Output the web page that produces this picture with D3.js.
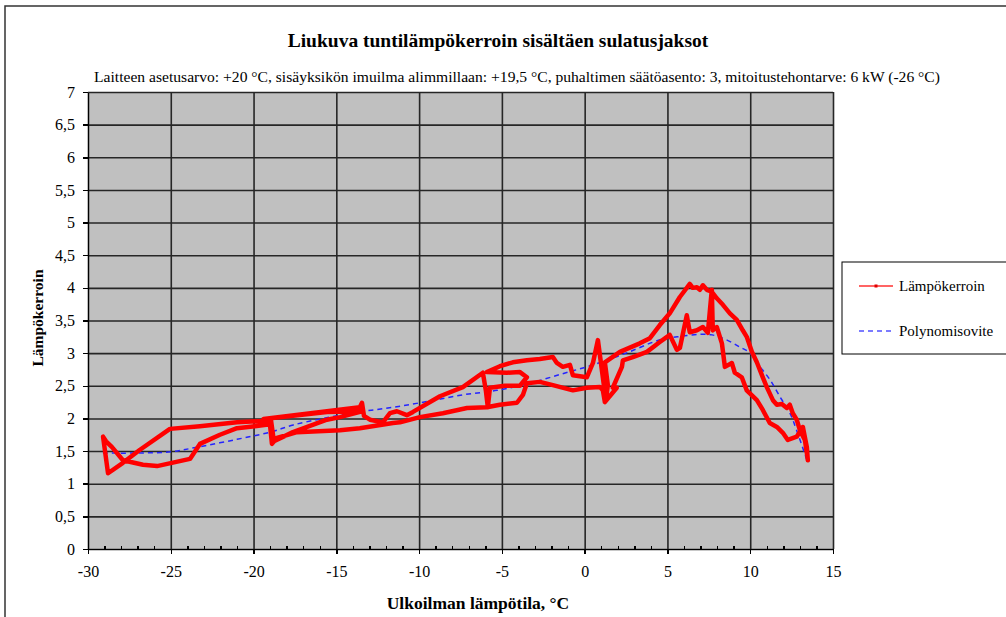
<!DOCTYPE html>
<html lang="fi">

<head>
    <meta charset="UTF-8">
    <title>Liukuva tuntilämpökerroin sisältäen sulatusjaksot</title>

    <!-- Importing the D3.js library -->
    <script src="https://d3js.org/d3.v7.min.js"></script>

    <style>
        body {
            margin: 0;
            background: #ffffff;
        }

        svg text {
            font-family: "Liberation Serif", "Times New Roman", Times, "DejaVu Serif", serif !important;
            fill: #000;
        }

        .grid line {
            stroke: #262626;
            stroke-width: 1.6;
        }

        .grid path {
            display: none;
        }

        .axis path,
        .axis line {
            fill: none;
            stroke: #000;
            stroke-width: 1.5;
            shape-rendering: crispEdges;
        }

        .axis text {
            font-size: 16px;
        }
    </style>
</head>

<body>
    <script>
        // Tick labels of both axes
        const xTicks = [-30, -25, -20, -15, -10, -5, 0, 5, 10, 15];
        const xMinorTicks = [-29, -28, -27, -26, -24, -23, -22, -21, -19, -18, -17, -16, -14, -13, -12, -11,
            -9, -8, -7, -6, -4, -3, -2, -1, 1, 2, 3, 4, 6, 7, 8, 9, 11, 12, 13, 14];
        const yTicks = [0, 0.5, 1, 1.5, 2, 2.5, 3, 3.5, 4, 4.5, 5, 5.5, 6, 6.5, 7];

        // Lämpökerroin: outdoor temperature (°C) and heat factor
        const ulkoLampo = [
            13.48, 13.42, 13.18, 12.81, 12.27, 11.97, 11.61, 11.18, 10.76, 10.40, 9.79, 9.49, 9.07, 8.89, 8.47,
            8.29, 7.98, 7.74, 7.68, 7.44, 7.14, 6.78, 6.35, 6.17, 5.75, 5.57, 5.14, 4.54, 3.76, 2.91, 2.31, 2.25, 1.70,
            1.94, 1.22, 1.10, 0.92, 0.13, -0.71, -1.92, -2.71, -3.49, -3.73, -4.09, -5.12, -5.91, -7.11, -8.56,
            -9.95, -11.16, -11.58, -13.58, -14.78, -17.38, -18.59, -18.89, -19.01, -19.92, -21.00, -22.03, -23.24,
            -23.84, -25.83, -26.68, -27.89, -28.55, -28.91, -29.09, -28.79, -27.89, -26.86, -25.05, -23.24, -21.00,
            -19.49, -18.95, -18.77, -17.62, -15.57, -14.78, -13.45, -15.57, -19.40, -15.57, -13.58, -13.45, -13.33,
            -12.97, -12.19, -11.76, -11.34, -10.74, -10.37, -8.74, -7.36, -6.15, -5.97, -5.85, -5.72, -4.82, -3.91,
            -3.49, -3.91, -4.70, -5.91, -5.12, -4.34, -3.49, -2.71, -1.92, -1.68, -1.32, -0.89, -0.71, 0.13, 0.50,
            0.80, 1.04, 1.28, 1.40, 1.22, 2.13, 3.33, 3.94, 4.54, 5.14, 5.75, 6.35,
            6.53, 6.78, 6.96, 7.14, 7.38, 7.68, 7.98, 8.35, 8.77, 9.19, 9.55, 9.79, 10.10, 10.40, 10.76, 11.00,
            11.37, 11.61, 11.91, 12.21, 12.39, 12.57, 12.81, 13.00, 13.30, 13.42, 13.48
        ];
        const lampokerroin = [
            1.36, 1.56, 1.87, 1.72, 1.67, 1.78, 1.87, 1.93, 2.13, 2.28, 2.43, 2.63, 2.70, 2.85, 2.79,
            3.15, 3.40, 3.35, 3.97, 3.31, 3.40, 3.35, 3.32, 3.58, 3.08, 3.05, 3.28, 3.17, 3.02, 2.94, 2.89, 2.79, 2.47,
            2.47, 2.25, 2.43, 2.48, 2.47, 2.43, 2.51, 2.56, 2.54, 2.36, 2.24, 2.21, 2.17, 2.16, 2.08,
            2.02, 1.94, 1.93, 1.85, 1.82, 1.79, 1.70, 1.61, 1.91, 1.88, 1.85, 1.75, 1.61,
            1.38, 1.27, 1.29, 1.36, 1.56, 1.65, 1.72, 1.16, 1.32, 1.52, 1.84, 1.88, 1.94,
            1.96, 1.98, 1.65, 1.79, 1.98, 2.02, 2.11, 2.10, 1.99, 2.11, 2.17, 2.24, 2.04,
            1.98, 1.94, 2.08, 2.11, 2.05, 2.10, 2.34, 2.48, 2.70, 2.43, 2.17, 2.47, 2.50, 2.50,
            2.63, 2.71, 2.70, 2.71, 2.80, 2.86, 2.89, 2.91, 2.94, 2.85, 2.79, 2.82, 2.66, 2.63, 2.85,
            3.20, 2.74, 2.28, 2.51, 2.86, 3.02, 3.15, 3.23, 3.43, 3.61, 3.86, 4.06,
            4.00, 4.01, 3.97, 4.04, 3.97, 3.94, 3.84, 3.74, 3.61, 3.51, 3.35, 3.25, 3.02, 2.86, 2.63, 2.48,
            2.28, 2.21, 2.22, 2.16, 2.21, 2.08, 1.98, 1.82, 1.67, 1.47, 1.36
        ];

        // Polynomisovite (fitted trend)
        const sovX = [-29.1, -27, -25, -23.4, -21, -19, -17.6, -15.6, -13.6, -11.6, -9.5, -7.4, -5.3, -3.3, -1.4,
            0.5, 2.5, 4.5, 5.6, 7.0, 7.7, 8.6, 9.4, 10.0, 10.6, 11.2, 11.8, 12.4, 12.8, 13.4];
        const sovY = [1.47, 1.47, 1.49, 1.56, 1.68, 1.79, 1.90, 2.01, 2.10, 2.17, 2.26, 2.36, 2.43, 2.54, 2.68,
            2.82, 3.00, 3.20, 3.25, 3.29, 3.28, 3.20, 3.09, 3.00, 2.79, 2.59, 2.33, 2.08, 1.82, 1.38];

        const seriesNames = ["Lämpökerroin", "Polynomisovite"];

        // Setting dimensions and margins for the chart
        const width = 1006;
        const height = 617;
        const margin = { top: 92, right: 173, bottom: 68, left: 88 };
        const serif = '"Liberation Serif", "Times New Roman", Times, serif';

        const x = d3.scaleLinear()
            .domain([-30, 15])
            .range([margin.left, width - margin.right]);

        const y = d3.scaleLinear()
            .domain([0, 7])
            .range([height - margin.bottom, margin.top]);

        const fmt = d => String(d).replace(".", ",");

        const svg = d3.select("body").append("svg")
            .attr("width", width)
            .attr("height", height)
            .attr("font-family", serif);

        // Outer chart frame (only top and left edge are visible)
        svg.append("path")
            .attr("d", `M5,${height} V6 H${width}`)
            .attr("fill", "none")
            .attr("stroke", "#333")
            .attr("stroke-width", 1.5);

        // Grey plot area
        svg.append("rect")
            .attr("x", x(-30))
            .attr("y", y(7))
            .attr("width", x(15) - x(-30))
            .attr("height", y(0) - y(7))
            .attr("fill", "#c0c0c0");

        // Gridlines
        svg.append("g")
            .attr("class", "grid")
            .attr("transform", `translate(${margin.left},0)`)
            .call(d3.axisLeft(y).tickValues(yTicks).tickSize(-(x(15) - x(-30))).tickFormat(""));

        svg.append("g")
            .attr("class", "grid")
            .attr("transform", `translate(0,${y(0)})`)
            .call(d3.axisBottom(x).tickValues(xTicks).tickSize(-(y(0) - y(7))).tickFormat(""));

        // Axes
        svg.append("g")
            .attr("class", "axis")
            .attr("transform", `translate(${margin.left},0)`)
            .call(d3.axisLeft(y).tickValues(yTicks).tickSize(5).tickSizeOuter(0).tickPadding(8).tickFormat(fmt))
            .attr("font-family", serif);

        svg.append("g")
            .attr("class", "axis")
            .attr("transform", `translate(0,${y(0)})`)
            .call(d3.axisBottom(x).tickValues(xTicks).tickSize(5).tickSizeOuter(0).tickPadding(12).tickFormat(fmt))
            .attr("font-family", serif);

        // Minor ticks on the x axis, pointing into the plot
        svg.append("g")
            .attr("class", "axis")
            .attr("transform", `translate(0,${y(0)})`)
            .call(d3.axisBottom(x).tickValues(xMinorTicks).tickSize(-3).tickSizeOuter(0).tickFormat(""))
            .call(g => g.select(".domain").remove());

        // Lines
        const redData = d3.zip(ulkoLampo, lampokerroin);
        const fitData = d3.zip(sovX, sovY);

        const line = d3.line()
            .x(d => x(d[0]))
            .y(d => y(d[1]));

        svg.append("path")
            .datum(fitData)
            .attr("fill", "none")
            .attr("stroke", "#2424ff")
            .attr("stroke-width", 1.5)
            .attr("stroke-dasharray", "5,4")
            .attr("d", line.curve(d3.curveCatmullRom));

        svg.append("path")
            .datum(redData)
            .attr("fill", "none")
            .attr("stroke", "#ff0000")
            .attr("stroke-width", 4.5)
            .attr("stroke-linejoin", "round")
            .attr("stroke-linecap", "round")
            .attr("d", line.curve(d3.curveLinear));

        // Titles
        svg.append("text")
            .attr("x", 498)
            .attr("y", 47)
            .attr("text-anchor", "middle")
            .style("font-size", "19.5px")
            .style("font-weight", "bold")
            .text("Liukuva tuntilämpökerroin sisältäen sulatusjaksot");

        svg.append("text")
            .attr("x", 517)
            .attr("y", 82)
            .attr("text-anchor", "middle")
            .style("font-size", "15.6px")
            .text("Laitteen asetusarvo: +20 °C, sisäyksikön imuilma alimmillaan: +19,5 °C, puhaltimen säätöasento: 3, mitoitustehontarve: 6 kW (-26 °C)");

        // Axis labels
        svg.append("text")
            .attr("x", 478)
            .attr("y", 609)
            .attr("text-anchor", "middle")
            .style("font-size", "17.5px")
            .style("font-weight", "bold")
            .text("Ulkoilman lämpötila, °C");

        svg.append("text")
            .attr("text-anchor", "middle")
            .attr("transform", "translate(43,318) rotate(-90)")
            .style("font-size", "15.5px")
            .style("font-weight", "bold")
            .text("Lämpökerroin");

        // Legend
        const legend = svg.append("g").attr("transform", "translate(842,262)");

        legend.append("rect")
            .attr("width", 180)
            .attr("height", 92)
            .attr("fill", "#fff")
            .attr("stroke", "#000")
            .attr("stroke-width", 1);

        legend.append("line")
            .attr("x1", 17).attr("x2", 51).attr("y1", 24).attr("y2", 24)
            .attr("stroke", "#ff3030").attr("stroke-width", 1.5);
        legend.append("rect")
            .attr("x", 32.5).attr("y", 22.5).attr("width", 3).attr("height", 3)
            .attr("fill", "#e00000");

        legend.append("line")
            .attr("x1", 17).attr("x2", 51).attr("y1", 69).attr("y2", 69)
            .attr("stroke", "#5050ff").attr("stroke-width", 1.5)
            .attr("stroke-dasharray", "5,4");

        legend.selectAll(".legend-label")
            .data(seriesNames)
            .enter()
            .append("text")
            .attr("class", "legend-label")
            .attr("x", 57)
            .attr("y", (d, i) => 29 + i * 45)
            .style("font-size", "15px")
            .text(d => d);
    </script>
</body>

</html>
